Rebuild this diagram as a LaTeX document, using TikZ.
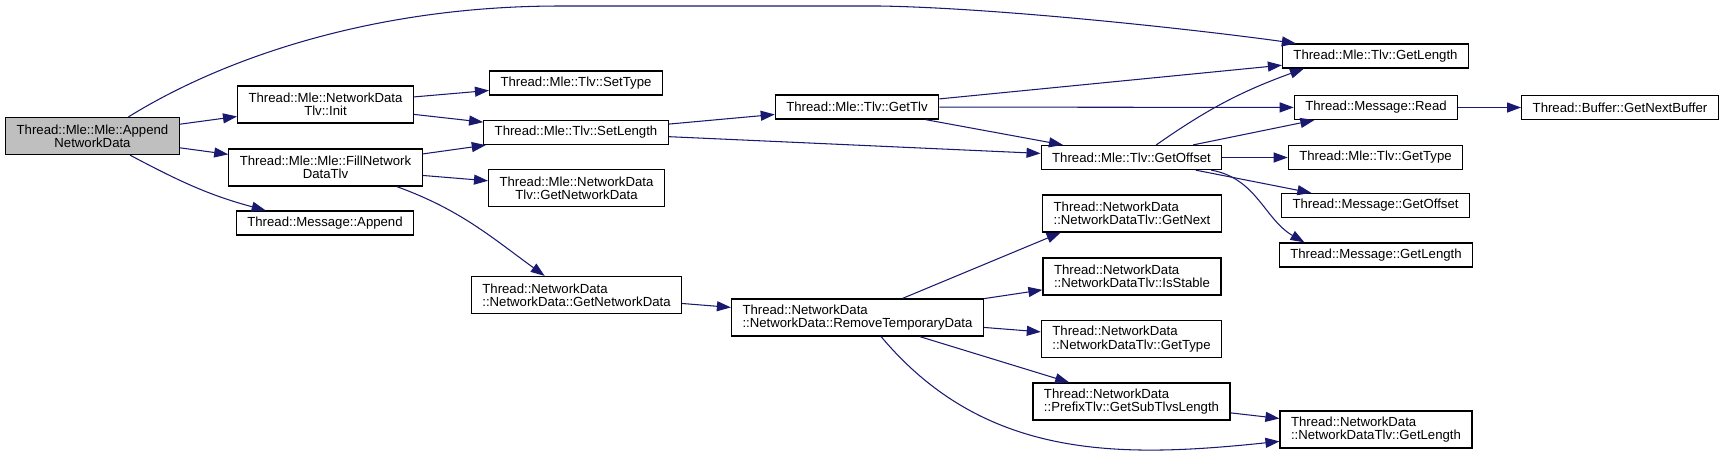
\documentclass[tikz,border=0pt]{standalone}
\usepackage{fontspec}
\setsansfont{Liberation Sans}
\usetikzlibrary{arrows.meta}

\definecolor{edgeblue}{RGB}{25,25,112}
\definecolor{rootgray}{RGB}{191,191,191}

\begin{document}
\begin{tikzpicture}[
    x=0.02cm, y=-0.02cm,
    fn/.style={draw=black, line width=0.7pt, rectangle, fill=white, inner xsep=0.22cm, inner ysep=0.08cm, minimum height=0.48cm, font=\sffamily\fontsize{7.5}{7.6}\selectfont},
    fn2/.style={fn, minimum height=0.74cm, align=center},
    fnl/.style={fn, minimum height=0.74cm, align=left},
    edge/.style={-{Triangle[length=0.28cm,width=0.2cm]}, line width=0.6pt, draw=edgeblue},
]

\useasboundingbox (0,0) rectangle (1725,458);

% Functions
\node[fn2, fill=rootgray] (appendnd) at (92.5,136) {Thread::Mle::Mle::Append\\NetworkData};
\node[fn2] (tlvinit) at (325.5,104.5) {Thread::Mle::NetworkData\\Tlv::Init};
\node[fn2] (fillnd) at (325.5,167.5) {Thread::Mle::Mle::FillNetwork\\DataTlv};
\node[fn] (msgappend) at (325,223) {Thread::Message::Append};
\node[fn] (settype) at (576,83) {Thread::Mle::Tlv::SetType};
\node[fn] (setlength) at (576,132.5) {Thread::Mle::Tlv::SetLength};
\node[fn2] (tlvgetnd) at (576.5,188) {Thread::Mle::NetworkData\\Tlv::GetNetworkData};
\node[fnl] (getnd) at (576.5,295) {Thread::NetworkData\\::NetworkData::GetNetworkData};
\node[fn] (gettlv) at (857,107) {Thread::Mle::Tlv::GetTlv};
\node[fnl] (removetmp) at (857.5,317.5) {Thread::NetworkData\\::NetworkData::RemoveTemporaryData};
\node[fn] (getoffset) at (1131.5,157.5) {Thread::Mle::Tlv::GetOffset};
\node[fnl] (getnext) at (1132,213.5) {Thread::NetworkData\\::NetworkDataTlv::GetNext};
\node[fnl] (isstable) at (1132,276.5) {Thread::NetworkData\\::NetworkDataTlv::IsStable};
\node[fnl] (ndgettype) at (1131.5,339) {Thread::NetworkData\\::NetworkDataTlv::GetType};
\node[fnl] (getsubtlvs) at (1131.5,401.5) {Thread::NetworkData\\::PrefixTlv::GetSubTlvsLength};
\node[fn] (tlvlength) at (1375.5,56) {Thread::Mle::Tlv::GetLength};
\node[fn] (msgread) at (1376,107.5) {Thread::Message::Read};
\node[fn] (tlvgettype) at (1375.5,157.5) {Thread::Mle::Tlv::GetType};
\node[fn] (msgoffset) at (1375.5,205.5) {Thread::Message::GetOffset};
\node[fn] (msglength) at (1376,255) {Thread::Message::GetLength};
\node[fnl] (ndlength) at (1376,429.5) {Thread::NetworkData\\::NetworkDataTlv::GetLength};
\node[fn] (nextbuf) at (1620,107.5) {Thread::Buffer::GetNextBuffer};

% Calls
\draw[edge] (appendnd) -- (tlvinit);
\draw[edge] (appendnd) -- (fillnd);
\draw[edge] (appendnd.-27) to[out=-28,in=165] (msgappend.168);
\draw[edge] (appendnd.28) .. controls (220,60) and (370,6) .. (560,6) -- (880,6) .. controls (1000,8) and (1200,30) .. (tlvlength.171);
\draw[edge] (tlvinit) -- (settype);
\draw[edge] (tlvinit) -- (setlength);
\draw[edge] (fillnd) -- (setlength);
\draw[edge] (fillnd) -- (tlvgetnd);
\draw[edge] (fillnd.-15) to[out=-20,in=144] (getnd.149);
\draw[edge] (setlength) -- (gettlv);
\draw[edge] (setlength) -- (getoffset);
\draw[edge] (gettlv) -- (tlvlength);
\draw[edge] (gettlv) -- (msgread);
\draw[edge] (gettlv) -- (getoffset);
\draw[edge] (getoffset.27) to[out=35,in=200] (tlvlength.190);
\draw[edge] (getoffset) -- (msgread);
\draw[edge] (getoffset) -- (tlvgettype);
\draw[edge] (getoffset) -- (msgoffset);
\draw[edge] (getoffset.-9) to[out=-10,in=150] (msglength.170);
\draw[edge] (msgread) -- (nextbuf);
\draw[edge] (getnd) -- (removetmp);
\draw[edge] (removetmp.23) -- (getnext.195);
\draw[edge] (removetmp) -- (isstable);
\draw[edge] (removetmp) -- (ndgettype);
\draw[edge] (removetmp) -- (getsubtlvs);
\draw[edge] (removetmp.-39) to[out=-50,in=186] (ndlength.187);
\draw[edge] (getsubtlvs) -- (ndlength);

\end{tikzpicture}
\end{document}
